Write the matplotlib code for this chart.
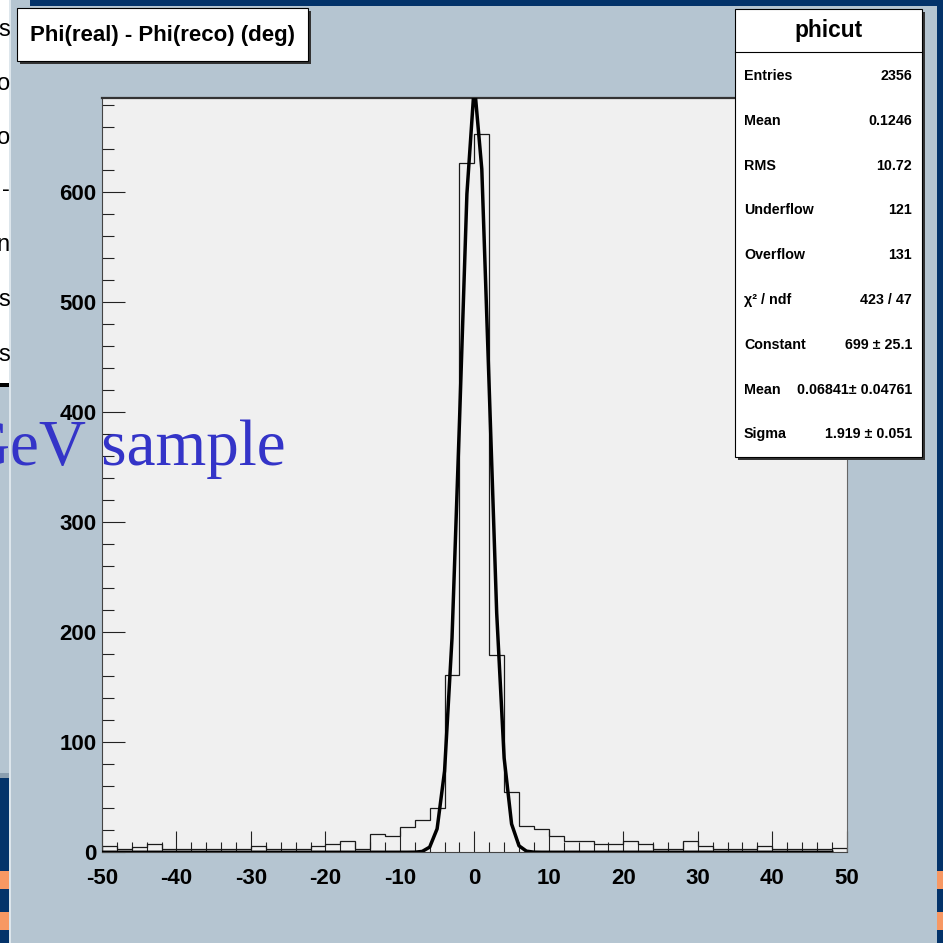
import numpy as np
import matplotlib.pyplot as plt
from matplotlib import font_manager
from matplotlib.patches import Rectangle

# histogram "phicut": 50 bins from -50 to 50 deg
bin_edges = np.linspace(-50, 50, 51)
counts = np.array([
    6, 3, 5, 8, 3, 3, 3, 3, 3, 3,
    6, 3, 3, 3, 6, 8, 10, 3, 17, 15,
    23, 29, 40, 161, 627, 653, 179, 55, 24, 21,
    15, 10, 10, 8, 8, 10, 8, 3, 3, 10,
    6, 3, 3, 3, 6, 3, 3, 3, 3, 4,
])

# gaussian fit parameters (from the stats box)
fit_const = 699.0
fit_mean = 0.06841
fit_sigma = 1.919
fit_range = (-50, 48)

stat_labels = ["Entries", "Mean", "RMS", "Underflow", "Overflow",
               "\u03c7\u00b2 / ndf", "Constant", "Mean", "Sigma"]
stat_values = ["2356", "0.1246", "10.72", "121", "131", "423 / 47",
               "699 \u00b1 25.1", "0.06841\u00b1 0.04761", "1.919 \u00b1 0.051"]

x_major = np.arange(-50, 51, 10)
x_minor = np.arange(-50, 51, 2)
y_major = np.arange(0, 601, 100)
y_minor = np.arange(0, 700, 20)

CANVAS = "#b5c5d1"
FRAME = "#f0f0f0"
NAVY = "#03336a"
ORANGE = "#f79863"

plt.rcParams["axes.unicode_minus"] = False

# narrow bold font like ROOT's helvetica on a stretched screenshot
try:
    font_manager.findfont(font_manager.FontProperties(family="Liberation Sans Narrow"),
                          fallback_to_default=False)
    SANS = ["Liberation Sans Narrow", "DejaVu Sans"]
    K = 1.0
except ValueError:
    SANS = ["Liberation Sans", "DejaVu Sans"]
    K = 0.82

W = H = 943


def fx(px):
    return px / W


def fy(py):
    return 1 - py / H


def rect(x0, y0, x1, y1, color, z=1, ec="none", lw=0):
    fig.add_artist(Rectangle((fx(x0), fy(y1)), (x1 - x0) / W, (y1 - y0) / H,
                             transform=fig.transFigure, facecolor=color,
                             edgecolor=ec, linewidth=lw, zorder=z))


fig = plt.figure(figsize=(9.43, 9.43), dpi=100, facecolor=CANVAS)

# slide pieces around the embedded canvas
rect(30, 0, 943, 6, NAVY)
rect(0, 0, 9, 384, "white")
rect(0, 383, 9, 387, "black")
rect(0, 773, 9, 778, "#8b9fb0")
rect(0, 778, 9, 871, NAVY)
rect(0, 871, 9, 889, ORANGE)
rect(0, 889, 9, 912, NAVY)
rect(0, 912, 9, 930, ORANGE)
rect(0, 930, 9, 943, NAVY)
rect(9, 0, 11, 943, "#dde6ec")
rect(937, 0, 943, 943, NAVY)
rect(937, 871, 943, 889, ORANGE)
rect(937, 912, 943, 930, ORANGE)
for ch, yy in zip("soo-nss", [30, 84, 138, 190, 245, 300, 355]):
    fig.text(fx(10), fy(yy), ch, ha="right", va="center", fontsize=17,
             family=["Liberation Sans", "DejaVu Sans"], color="black")

# main frame
ax = fig.add_axes([fx(102), fy(852.3), (846.7 - 102) / W, (852.3 - 98.3) / H])
ax.set_facecolor(FRAME)
ax.stairs(counts, bin_edges, color="#1a1a1a", linewidth=0.9, zorder=2)

xf = np.linspace(fit_range[0], fit_range[1], int(fit_range[1] - fit_range[0]) + 1)
yf = fit_const * np.exp(-0.5 * ((xf - fit_mean) / fit_sigma) ** 2)
ax.plot(xf, yf, color="black", linewidth=2.5, zorder=3)

ax.set_xlim(bin_edges[0], bin_edges[-1])
ax.set_ylim(0, counts.max() * 1.05)
ax.set_xticks(x_major)
ax.set_xticks(x_minor, minor=True)
ax.set_yticks(y_major)
ax.set_yticks(y_minor[y_minor <= counts.max() * 1.05], minor=True)
ax.tick_params(axis="x", which="major", direction="in", length=15, width=0.8,
               color="#222222", pad=11, labelsize=19.5 * K)
ax.tick_params(axis="x", which="minor", direction="in", length=7.5, width=0.8,
               color="#222222")
ax.tick_params(axis="y", which="major", direction="in", length=16.5, width=0.8,
               color="#222222", pad=4, labelsize=19.5 * K)
ax.tick_params(axis="y", which="minor", direction="in", length=8.5, width=0.8,
               color="#222222")
for lbl in ax.get_xticklabels() + ax.get_yticklabels():
    lbl.set_family(SANS)
    lbl.set_fontweight("bold")
ax.spines["top"].set_color("#333333")
ax.spines["top"].set_linewidth(1.6)
ax.spines["left"].set_color("#444444")
ax.spines["right"].set_color("#666666")
ax.spines["bottom"].set_color("#444444")

# title box
rect(20, 11, 311, 64, "#333333", z=5)
rect(17, 8, 308, 61, "white", z=6, ec="black", lw=0.8)
fig.text(fx(162.5), fy(35), "Phi(real) - Phi(reco) (deg)", ha="center", va="center",
         fontsize=19.5 * K, family=SANS, fontweight="bold", zorder=7)

# stats box
rect(738, 12, 925, 460, "#333333", z=5)
rect(735, 9, 922, 457, "white", z=6, ec="black", lw=0.8)
fig.add_artist(plt.Line2D([fx(735), fx(922)], [fy(52), fy(52)], transform=fig.transFigure,
                          color="black", linewidth=0.8, zorder=7))
fig.text(fx(828.5), fy(30), "phicut", ha="center", va="center", fontsize=20 * K,
         family=SANS, fontweight="bold", zorder=7)
for i, (lab, val) in enumerate(zip(stat_labels, stat_values)):
    yy = 76 + i * 44.8
    fig.text(fx(744), fy(yy), lab, ha="left", va="center", fontsize=12.5 * K,
             family=SANS, fontweight="bold", zorder=7)
    fig.text(fx(912), fy(yy), val, ha="right", va="center", fontsize=12.5 * K,
             family=SANS, fontweight="bold", zorder=7)

# slide text overlapping the canvas
fig.text(fx(-37), fy(465), "GeV sample", ha="left", va="baseline", fontsize=47,
         family=["Liberation Serif", "DejaVu Serif"], color="#3434c8", zorder=10)

fig.savefig("out.png", dpi=100, facecolor=CANVAS)
